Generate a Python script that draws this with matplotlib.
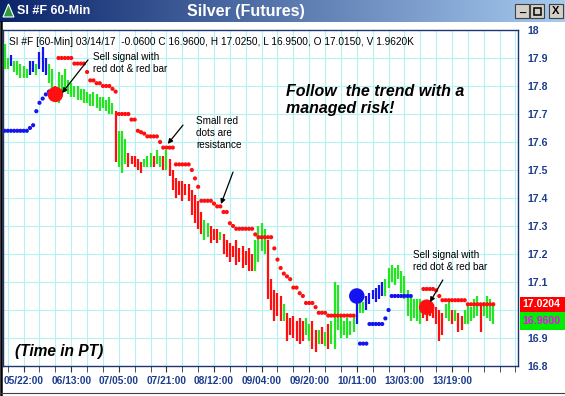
import numpy as np
import matplotlib
matplotlib.use('Agg')
import matplotlib.pyplot as plt
import matplotlib.transforms as mtransforms
from matplotlib.colors import LinearSegmentedColormap
from matplotlib.patches import Rectangle, Polygon

plt.rcParams['font.family'] = ['Liberation Sans', 'DejaVu Sans']

nan = np.nan

# 60-min bars, high / low
bar_high = [
    17.95, 17.90, 17.91, 17.89, 17.89, 17.88, 17.87, 17.86, 17.89, 17.89,
    17.88, 17.92, 17.94, 17.90, 17.88, 17.86, 17.80, 17.85, 17.84, 17.86,
    17.82, 17.81, 17.80, 17.80, 17.79, 17.79, 17.78, 17.77, 17.78, 17.77,
    17.76, 17.76, 17.75, 17.76, 17.74, 17.71, 17.64, 17.64, 17.61, 17.56,
    17.55, 17.55, 17.54, 17.53, 17.54, 17.55, 17.56, 17.55, 17.57, 17.55,
    17.55, 17.57, 17.54, 17.50, 17.47, 17.46, 17.46, 17.45, 17.45, 17.43,
    17.41, 17.39, 17.35, 17.32, 17.31, 17.30, 17.29, 17.29, 17.28, 17.27,
    17.25, 17.24, 17.23, 17.25, 17.22, 17.23, 17.21, 17.22, 17.20, 17.25,
    17.30, 17.31, 17.29, 17.25, 17.11, 17.07, 17.06, 17.05, 17.02, 16.99,
    16.97, 16.98, 16.96, 16.97, 16.96, 16.97, 16.95, 16.96, 16.93, 16.93,
    16.94, 16.92, 16.95, 16.96, 17.10, 17.09, 16.98, 16.96, 16.97, 16.96,
    16.98, 17.05, 17.04, 17.03, 17.05, 17.06, 17.07, 17.08, 17.09, 17.10,
    17.11, 17.15, 17.16, 17.15, 17.16, 17.14, 17.12, 17.07, 17.05, 17.04,
    17.04, 17.04, 17.03, 17.02, 17.02, 17.02, 17.01, 17.00, 16.99, 17.02,
    17.03, 17.00, 17.00, 16.99, 16.98, 17.00, 17.02, 17.01, 17.04, 17.05,
    17.02, 17.03, 17.05, 17.04, 17.025,
]
bar_low = [
    17.86, 17.86, 17.87, 17.85, 17.84, 17.83, 17.83, 17.83, 17.84, 17.85,
    17.84, 17.86, 17.85, 17.84, 17.81, 17.79, 17.75, 17.74, 17.77, 17.78,
    17.77, 17.76, 17.76, 17.75, 17.75, 17.74, 17.74, 17.73, 17.73, 17.72,
    17.71, 17.72, 17.71, 17.70, 17.70, 17.53, 17.51, 17.49, 17.52, 17.51,
    17.52, 17.51, 17.50, 17.49, 17.51, 17.51, 17.51, 17.51, 17.52, 17.51,
    17.50, 17.50, 17.48, 17.43, 17.40, 17.41, 17.39, 17.41, 17.39, 17.34,
    17.31, 17.29, 17.27, 17.25, 17.26, 17.24, 17.25, 17.24, 17.25, 17.20,
    17.19, 17.17, 17.19, 17.16, 17.17, 17.15, 17.16, 17.14, 17.14, 17.14,
    17.17, 17.21, 17.20, 17.04, 17.00, 16.96, 16.98, 16.96, 16.96, 16.89,
    16.91, 16.90, 16.89, 16.88, 16.89, 16.91, 16.89, 16.86, 16.85, 16.88,
    16.88, 16.87, 16.86, 16.88, 16.86, 16.93, 16.90, 16.91, 16.90, 16.91,
    16.92, 16.95, 16.99, 16.99, 17.00, 17.02, 17.04, 17.03, 17.04, 17.05,
    17.05, 17.08, 17.10, 17.09, 17.11, 17.06, 17.04, 16.98, 16.96, 16.97,
    16.96, 16.95, 16.97, 16.96, 16.98, 16.97, 16.95, 16.89, 16.91, 16.97,
    16.96, 16.95, 16.96, 16.92, 16.93, 16.95, 16.95, 16.96, 16.97, 16.98,
    16.92, 16.98, 16.97, 16.96, 16.95,
]
bar_color = list(
    "ggbgggggbbgbbbggr" "gggggggggggggggggg" "rgggrrrrrgggrggrgr"
    "rrrrrrrrrr" "ggrrrg" "rrrrrrrrrr" "gggg" "rrrrr" "g" "rrrrrr"
    "ggrrgrgr" "gggggggg" "bgg" "bbbbbb" "gggggggggggg" "rrrrrrr"
    "ggrgrr" "ggggg" "r" "gggg"
)

# trailing stop dots
stop_price = [
    17.64, 17.64, 17.64, 17.64, 17.64, 17.64, 17.64, 17.64, 17.65, 17.66,
    17.71, 17.74, 17.755, 17.77, 17.78, nan, nan, 17.90, 17.90, 17.90,
    17.90, 17.90, 17.88, 17.88, 17.88, 17.88, 17.85, 17.82, 17.82, 17.81,
    17.81, 17.80, 17.80, 17.80, 17.79, 17.78, 17.70, 17.70, 17.70, 17.70,
    17.68, 17.68, 17.64, 17.635, 17.63, 17.62, 17.62, 17.62, 17.62, 17.60,
    17.58, 17.58, 17.58, 17.58, 17.52, 17.52, 17.52, 17.52, 17.52, 17.50,
    17.47, 17.44, 17.39, 17.39, 17.39, 17.39, 17.38, 17.37, 17.37, 17.35,
    17.35, 17.31, 17.30, 17.29, 17.29, 17.29, 17.29, 17.29, 17.29, 17.27,
    17.26, 17.26, 17.26, 17.26, 17.26, 17.22, 17.18, 17.15, 17.13, 17.12,
    17.11, 17.08, 17.08, 17.06, 17.05, 17.025, 17.025, 17.025, 17.01, 16.99,
    16.99, 16.99, 16.98, 16.98, 16.98, 16.98, 16.98, 16.98, 16.98, 16.98,
    16.98, nan, 16.88, 16.88, 16.88, 16.95, 16.95, 16.95, 16.95, 16.95,
    16.97, 17.00, 17.05, 17.05, 17.05, 17.05, 17.05, 17.05, 17.05, nan,
    nan, nan, 17.075, 17.075, 17.075, 17.075, 17.07, 17.05, 17.035, 17.035,
    17.035, 17.035, 17.035, 17.035, 17.035, 17.035, 17.0204, 17.0204, 17.0204, 17.0204,
    17.0204, 17.0204, 17.0204, 17.0204, 17.0204,
]
stop_color = list('b' * 17 + 'r' * 95 + 'b' * 17 + 'r' * 26)

# signal dots
sig_idx = [16, 111, 133]
sig_price = [17.77, 17.05, 17.01]
sig_color = ['r', 'b', 'r']

x_tick_pos = [6, 21, 36, 51, 66, 81, 96, 111, 126, 141]
x_tick_labels = ['05/22:00', '06/13:00', '07/05:00', '07/21:00', '08/12:00',
                 '09/04:00', '09/20:00', '10/11:00', '13/03:00', '13/19:00']
# 17.0 sits under the last-price boxes, so it has no label
y_tick_pos = [16.8, 16.9, 17.1, 17.2, 17.3, 17.4, 17.5, 17.6, 17.7, 17.8, 17.9, 18.0]
y_tick_labels = ['16.8', '16.9', '17.1', '17.2', '17.3', '17.4', '17.5',
                 '17.6', '17.7', '17.8', '17.9', '18']
grid_y = [16.9, 17.0, 17.1, 17.2, 17.3, 17.4, 17.5, 17.6, 17.7, 17.8, 17.9]
last_stop = 17.0204
last_close = 16.96

cmap_bar = {'g': '#22e622', 'r': '#ff0f0f', 'b': '#1414f0'}
navy = '#1c3c8c'
W, H = 565, 396

fig = plt.figure(figsize=(W / 100, H / 100), dpi=100, facecolor='white')
ax = fig.add_axes([3 / W, 1 - 366 / H, 515 / W, 336 / H])

idx = np.arange(len(bar_high))
ax.vlines(idx, bar_low, bar_high, colors=[cmap_bar[c] for c in bar_color],
          linewidth=1.6, zorder=3)

sp = np.array(stop_price)
ax.scatter(idx, sp, s=9, c=[cmap_bar[c] for c in stop_color],
           edgecolors='none', zorder=4)
ax.scatter(sig_idx, sig_price, s=125, c=[cmap_bar[c] for c in sig_color],
           edgecolors='none', zorder=5)

ax.set_xlim(-0.5, 161.8)
ax.set_ylim(16.8, 18.0)
ax.set_axisbelow(True)

ax.set_xticks(x_tick_pos)
ax.set_xticklabels(x_tick_labels)
ax.set_xticks(np.arange(1, 162, 5), minor=True)
ax.tick_params(axis='x', which='both', direction='out', length=4, color='#333333',
               labelsize=7.3, labelcolor=navy, pad=3)
for t in ax.get_xticklabels():
    t.set_fontweight('bold')

ax.yaxis.tick_right()
ax.set_yticks(y_tick_pos)
ax.set_yticklabels(y_tick_labels)
ax.tick_params(axis='y', length=0, pad=7, labelsize=7.6, labelcolor=navy)
for t in ax.get_yticklabels():
    t.set_fontweight('bold')

ax.grid(True, which='both', axis='x', color='#b4f2f2', linewidth=0.8)
for gy in grid_y:
    ax.axhline(gy, color='#b4f2f2', linewidth=0.8, zorder=0)
for s in ax.spines.values():
    s.set_color('#1a3570')
    s.set_linewidth(1.0)

# header + notes
ax.text(0.012, 0.964, 'SI #F [60-Min] 03/14/17  -0.0600 C 16.9600, H 17.0250, '
        'L 16.9500, O 17.0150, V 1.9620K', transform=ax.transAxes,
        fontsize=7.3, color='black', va='center', ha='left')
ax.text(0.175, 0.935, 'Sell signal with\nred dot & red bar', transform=ax.transAxes,
        fontsize=7.2, va='top', ha='left', linespacing=1.25)
ax.text(0.375, 0.745, 'Small red\ndots are\nresistance', transform=ax.transAxes,
        fontsize=7.2, va='top', ha='left', linespacing=1.25)
ax.text(0.55, 0.84, 'Follow  the trend with a\nmanaged risk!', transform=ax.transAxes,
        fontsize=11.5, fontweight='bold', fontstyle='italic', va='top', ha='left')
ax.text(0.796, 0.345, 'Sell signal with\nred dot & red bar', transform=ax.transAxes,
        fontsize=7.2, va='top', ha='left', linespacing=1.25)
ax.text(0.023, 0.042, '(Time in PT)', transform=ax.transAxes,
        fontsize=11.2, fontweight='bold', fontstyle='italic', va='center', ha='left')

arrows = [((0.165, 0.911), (0.1146, 0.8125)),
          ((0.3495, 0.717), (0.320, 0.661)),
          ((0.4466, 0.577), (0.4233, 0.482)),
          ((0.854, 0.256), (0.829, 0.190))]
for tail, tip in arrows:
    ax.annotate('', xy=tip, xytext=tail, xycoords='axes fraction',
                textcoords='axes fraction',
                arrowprops=dict(arrowstyle='-|>', color='black', lw=0.9,
                                mutation_scale=7, shrinkA=0, shrinkB=0), zorder=6)

# last price boxes on the right scale
trans = mtransforms.blended_transform_factory(fig.transFigure, ax.transData)
ax.add_patch(Rectangle((520 / W, last_close - 0.032), 45 / W, 0.064, transform=trans,
                       facecolor='#00ee00', edgecolor='none', clip_on=False, zorder=10))
ax.add_patch(Rectangle((520 / W, last_stop - 0.027), 45 / W, 0.054, transform=trans,
                       facecolor='#ff0000', edgecolor='none', clip_on=False, zorder=11))
ax.text(522 / W, last_stop, f'{last_stop:.4f}', transform=trans, color='white',
        fontsize=7.6, fontweight='bold', va='center', ha='left', clip_on=False, zorder=12)
ax.text(522 / W, last_close, f'{last_close:.4f}', transform=trans, color='#ff00ff',
        fontsize=7.6, fontweight='bold', va='center', ha='left', clip_on=False, zorder=12)

# window title bar
tax = fig.add_axes([0, 1 - 22 / H, 1, 22 / H])
grad = np.linspace(0, 1, 256).reshape(1, -1)
tcmap = LinearSegmentedColormap.from_list('tb', ['#0a246a', '#a6caf0'])
tax.imshow(grad, aspect='auto', cmap=tcmap, extent=[0, W, 22, 0])
tax.set_xlim(0, W)
tax.set_ylim(22, 0)
tax.axis('off')
tax.add_patch(Polygon([(3, 17), (8.5, 4), (14, 17)], closed=True,
                      facecolor='#2f9b3c', edgecolor='white', linewidth=0.8))
tax.text(17, 11.5, 'SI #F 60-Min', color='white', fontsize=9, fontweight='bold',
         va='center', ha='left')
tax.text(246, 11.5, 'Silver (Futures)', color='white', fontsize=11.5,
         fontweight='bold', va='center', ha='center')
for bx, glyph in [(515, '_'), (530, ''), (549, 'X')]:
    tax.add_patch(Rectangle((bx, 4), 14, 14, facecolor='#d4d0c8',
                            edgecolor='#404040', linewidth=0.8))
    if glyph:
        tax.text(bx + 7, 11.5 if glyph == 'X' else 9, glyph, fontsize=8,
                 fontweight='bold', ha='center', va='center', color='black')
tax.add_patch(Rectangle((534, 7.5), 7, 7, facecolor='none', edgecolor='black', linewidth=1.1))

# window frame
fig.add_artist(plt.Line2D([1.2 / W, 1.2 / W], [0, 1 - 22 / H], color='black',
                          linewidth=1.8, transform=fig.transFigure))
fig.add_artist(plt.Line2D([0, 1], [1 - 393 / H, 1 - 393 / H], color='#404040',
                          linewidth=0.8, transform=fig.transFigure))

fig.savefig('out.png', dpi=100)
